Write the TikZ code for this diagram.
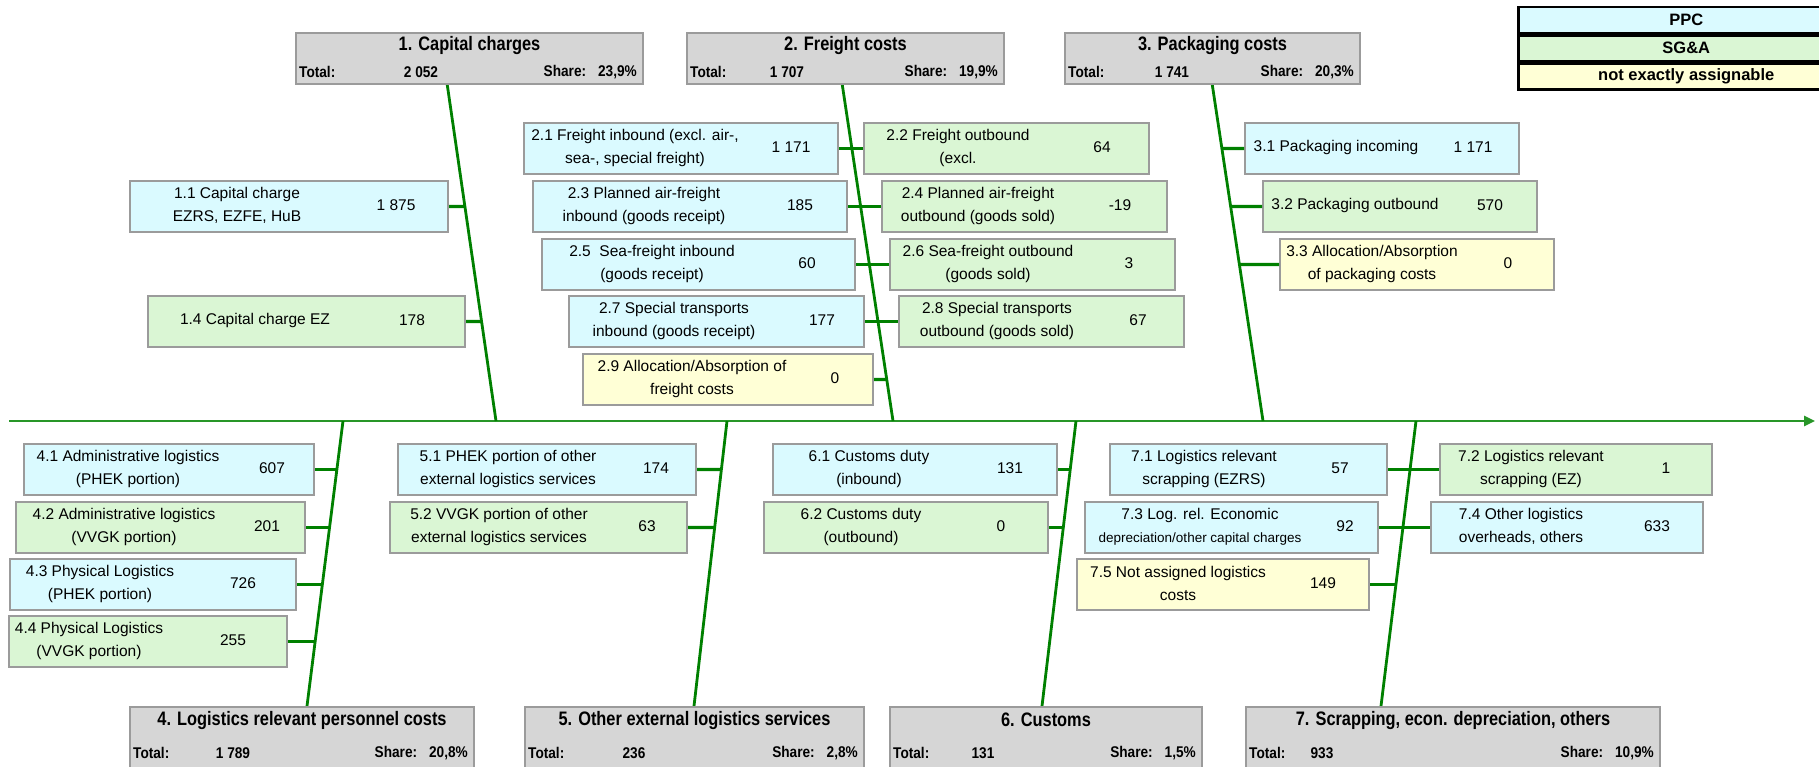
\documentclass[tikz,border=0pt]{standalone}
\usepackage{fontspec}
\setmainfont{Liberation Sans}
\newfontfamily\titlefont[FakeStretch=0.84]{Liberation Sans}
\newfontfamily\totfont[FakeStretch=0.88]{Liberation Sans}
\usetikzlibrary{arrows.meta}

\definecolor{ppc}{RGB}{218,250,255}
\definecolor{sga}{RGB}{218,246,212}
\definecolor{nea}{RGB}{255,255,214}
\definecolor{headgray}{RGB}{214,214,214}
\definecolor{boxline}{RGB}{155,155,155}
\definecolor{fishgreen}{RGB}{0,128,0}
\definecolor{axisgreen}{RGB}{40,150,40}

\tikzset{
  itembox/.style={draw=boxline, line width=2pt, inner sep=0pt,
    minimum height=51pt, anchor=north west},
  ppcbox/.style={itembox, fill=ppc},
  sgabox/.style={itembox, fill=sga},
  neabox/.style={itembox, fill=nea},
  itemtext/.style={inner sep=0pt, align=center,
    font=\fontsize{15.5}{23}\selectfont},
  headbox/.style={draw=boxline, line width=2pt, fill=headgray,
    inner sep=0pt, anchor=north west},
  tophead/.style={headbox, minimum height=51pt},
  bothead/.style={headbox, minimum height=62pt},
  titletext/.style={inner sep=0pt,
    font=\titlefont\bfseries\fontsize{19.5}{20}\selectfont},
  tottext/.style={inner sep=0pt,
    font=\totfont\bfseries\fontsize{15.5}{16}\selectfont},
  legrow/.style={draw=black, line width=2.5pt, inner sep=0pt,
    minimum width=336pt, minimum height=25.7pt, anchor=north west,
    font=\bfseries\fontsize{16.5}{17}\selectfont},
  spine/.style={draw=fishgreen, line width=2.8pt},
  rib/.style={draw=fishgreen, line width=3.4pt},
  axisline/.style={draw=axisgreen, line width=2.6pt,
    -{Triangle[length=11pt,width=10pt]}},
}

% box: name, style, left, right, top, text x, text, number x, number
\newcommand{\costitem}[9]{%
  \node[#2, minimum width={#4-#3}] (#1) at (#3,#5) {};
  \node[itemtext] (#1t) at (#6,#5+25.5) {#7};
  \node[itemtext] (#1n) at (#8,#5+25.5) {#9};
}
% header: [style], name, left, right, top, title, total, total x, share
\newcommand{\costhead}[9][tophead]{%
  \node[#1, minimum width={#4-#3}] (#2) at (#3,#5) {};
  \node[titletext] (#2t) at ([yshift=-14pt]#2.north) {#6};
  \node[tottext, anchor=west] (#2l) at (#3+4,#5+\rowdy) {Total:};
  \node[tottext] (#2v) at (#8,#5+\rowdy) {#7};
  \node[tottext, anchor=east] (#2s) at (#4-5,#5+\rowdy) {Share:\hspace{12pt}#9};
}

\begin{document}
\begin{tikzpicture}[x=1pt,y=-1pt]
  \useasboundingbox (0,0) rectangle (1819,767);
  \clip (0,0) rectangle (1819,767);

  % main axis
  \coordinate (ax0) at (9,421);
  \coordinate (ax1) at (1815,421);
  \draw[axisline] (ax0) -- (ax1);

  % spines: header end, axis end
  \foreach \n/\xh/\yh/\xa in {1/447/83/496, 2/842/83/893, 3/1212/83/1263,
      4/307/706/343, 5/694/706/727, 6/1042/706/1076, 7/1381/706/1416}
  {
    \coordinate (sh\n) at (\xh,\yh);
    \coordinate (sa\n) at (\xa,421);
    \draw[spine] (sh\n) -- (sa\n);
  }

  % headers
  \def\rowdy{40}
  \costhead{h1}{295}{642}{32}{1. Capital charges}{2 052}{421}{23,9\%}
  \costhead{h2}{686}{1003}{32}{2. Freight costs}{1 707}{787}{19,9\%}
  \costhead{h3}{1064}{1359}{32}{3. Packaging costs}{1 741}{1172}{20,3\%}
  \def\rowdy{47}
  \costhead[bothead]{h4}{129}{473}{706}{4. Logistics relevant personnel costs}{1 789}{233}{20,8\%}
  \costhead[bothead]{h5}{524}{863}{706}{5. Other external logistics services}{236}{634}{2,8\%}
  \costhead[bothead]{h6}{889}{1201}{706}{6. Customs}{131}{983}{1,5\%}
  \costhead[bothead]{h7}{1245}{1659}{706}{7. Scrapping, econ. depreciation, others}{933}{1322}{10,9\%}

  % legend
  \node[legrow, fill=ppc] (lppc) at (1517,6) {PPC};
  \node[legrow, fill=sga] (lsga) at (lppc.south west) {SG\&A};
  \node[legrow, fill=nea] (lnea) at (lsga.south west) {not exactly assignable};

  % 1. capital charges
  \costitem{b11}{ppcbox}{129}{447}{180}{237}{1.1 Capital charge\\EZRS, EZFE, HuB}{396}{1 875}
  \costitem{b14}{sgabox}{147}{464}{295}{255}{1.4 Capital charge EZ}{412}{178}

  % 2. freight costs
  \costitem{b21}{ppcbox}{523}{837}{122}{635}{2.1 Freight inbound (excl. air-,\\sea-, special freight)}{791}{1 171}
  \costitem{b22}{sgabox}{863}{1148}{122}{958}{2.2 Freight outbound\\(excl.}{1102}{64}
  \costitem{b23}{ppcbox}{532}{846}{180}{644}{2.3 Planned air-freight\\inbound (goods receipt)}{800}{185}
  \costitem{b24}{sgabox}{881}{1166}{180}{978}{2.4 Planned air-freight\\outbound (goods sold)}{1120}{-19}
  \costitem{b25}{ppcbox}{541}{854}{238}{652}{2.5\ \ Sea-freight inbound\\(goods receipt)}{807}{60}
  \costitem{b26}{sgabox}{889}{1174}{238}{988}{2.6 Sea-freight outbound\\(goods sold)}{1129}{3}
  \costitem{b27}{ppcbox}{568}{863}{295}{674}{2.7 Special transports\\inbound (goods receipt)}{822}{177}
  \costitem{b28}{sgabox}{898}{1183}{295}{997}{2.8 Special transports\\outbound (goods sold)}{1138}{67}
  \costitem{b29}{neabox}{582}{872}{353}{692}{2.9 Allocation/Absorption of\\freight costs}{835}{0}

  % 3. packaging costs
  \costitem{b31}{ppcbox}{1244}{1518}{122}{1336}{3.1 Packaging incoming}{1473}{1 171}
  \costitem{b32}{sgabox}{1262}{1536}{180}{1355}{3.2 Packaging outbound}{1490}{570}
  \costitem{b33}{neabox}{1279}{1553}{238}{1372}{3.3 Allocation/Absorption\\of packaging costs}{1508}{0}

  % 4. personnel costs
  \costitem{b41}{ppcbox}{23}{313}{443}{128}{4.1 Administrative logistics\\(PHEK portion)}{272}{607}
  \costitem{b42}{sgabox}{15}{304}{501}{124}{4.2 Administrative logistics\\(VVGK portion)}{267}{201}
  \costitem{b43}{ppcbox}{9}{295}{558}{100}{4.3 Physical Logistics\\(PHEK portion)}{243}{726}
  \costitem{b44}{sgabox}{8}{286}{615}{89}{4.4 Physical Logistics\\(VVGK portion)}{233}{255}

  % 5. other external services
  \costitem{b51}{ppcbox}{397}{695}{443}{508}{5.1 PHEK portion of other\\external logistics services}{656}{174}
  \costitem{b52}{sgabox}{389}{686}{501}{499}{5.2 VVGK portion of other\\external logistics services}{647}{63}

  % 6. customs
  \costitem{b61}{ppcbox}{772}{1056}{443}{869}{6.1 Customs duty\\(inbound)}{1010}{131}
  \costitem{b62}{sgabox}{763}{1047}{501}{861}{6.2 Customs duty\\(outbound)}{1001}{0}

  % 7. scrapping
  \costitem{b71}{ppcbox}{1109}{1386}{443}{1204}{7.1 Logistics relevant\\scrapping (EZRS)}{1340}{57}
  \costitem{b72}{sgabox}{1439}{1711}{443}{1531}{7.2 Logistics relevant\\scrapping (EZ)}{1666}{1}
  \costitem{b73}{ppcbox}{1084}{1377}{501}{1200}{7.3 Log. rel. Economic\\{\fontsize{13.5}{23}\selectfont depreciation/other capital charges}}{1345}{92}
  \costitem{b74}{ppcbox}{1430}{1702}{501}{1521}{7.4 Other logistics\\overheads, others}{1657}{633}
  \costitem{b75}{neabox}{1076}{1368}{558}{1178}{7.5 Not assigned logistics\\costs}{1323}{149}

  % ribs to the spines
  \foreach \b/\s in {b11/1, b14/1, b29/2, b41/4, b42/4, b43/4, b44/4,
      b51/5, b52/5, b61/6, b62/6, b75/7}
    \draw[rib] (\b.east) -- (intersection of \b.west--\b.east and sh\s--sa\s);
  \foreach \b in {b31, b32, b33}
    \draw[rib] (\b.west) -- (intersection of \b.west--\b.east and sh3--sa3);
  \foreach \l/\r in {b21/b22, b23/b24, b25/b26, b27/b28, b71/b72, b73/b74}
    \draw[rib] (\l.east) -- (\r.west);
\end{tikzpicture}
\end{document}
